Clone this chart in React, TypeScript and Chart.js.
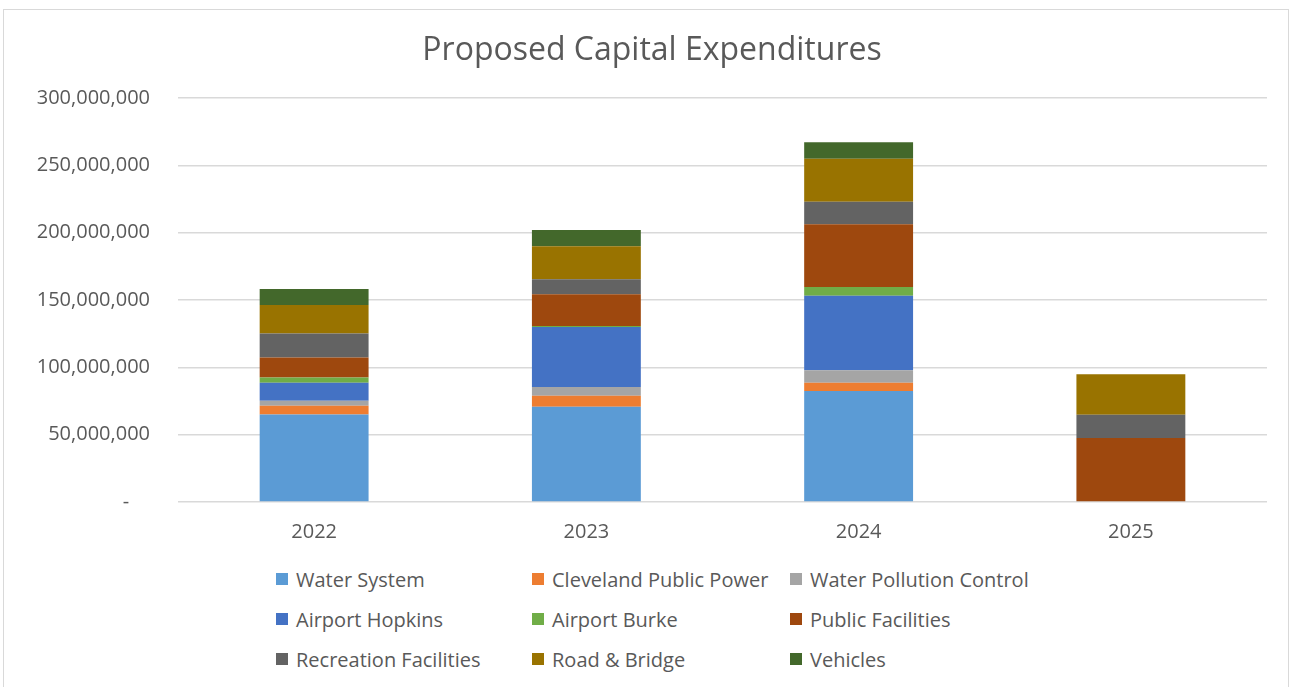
import React, { useEffect, useRef } from "react";
import { Chart, registerables } from "chart.js";

Chart.register(...registerables);

const years = ["2022", "2023", "2024", "2025"];
const waterSystem = [65000000, 70800000, 82400000, 0];
const clevelandPublicPower = [6400000, 8100000, 6200000, 0];
const waterPollutionControl = [3700000, 6500000, 9200000, 0];
const airportHopkins = [13400000, 44500000, 55400000, 0];
const airportBurke = [4000000, 800000, 6400000, 0];
const publicFacilities = [14800000, 23500000, 46600000, 47500000];
const recreationFacilities = [17900000, 11200000, 16800000, 17300000];
const roadBridge = [21000000, 24500000, 31900000, 30000000];
const vehicles = [11900000, 12100000, 12200000, 0];

const seriesNames = [
  "Water System",
  "Cleveland Public Power",
  "Water Pollution Control",
  "Airport Hopkins",
  "Airport Burke",
  "Public Facilities",
  "Recreation Facilities",
  "Road & Bridge",
  "Vehicles",
];
const seriesValues = [
  waterSystem,
  clevelandPublicPower,
  waterPollutionControl,
  airportHopkins,
  airportBurke,
  publicFacilities,
  recreationFacilities,
  roadBridge,
  vehicles,
];
const seriesColors = [
  "#5B9BD5",
  "#ED7D31",
  "#A5A5A5",
  "#4472C4",
  "#70AD47",
  "#9E480E",
  "#636363",
  "#997300",
  "#43682B",
];

const FONT = "'Open Sans', Lato, sans-serif";
const TEXT = "#595959";

export default function App() {
  const ref = useRef<HTMLCanvasElement | null>(null);

  useEffect(() => {
    if (!ref.current) return;
    const chart = new Chart(ref.current, {
      type: "bar",
      data: {
        labels: years,
        datasets: seriesNames.map((name, i) => ({
          label: name,
          data: seriesValues[i],
          backgroundColor: seriesColors[i],
          borderWidth: 0,
          barPercentage: 0.4,
          categoryPercentage: 1,
        })),
      },
      options: {
        responsive: false,
        animation: false,
        devicePixelRatio: 1,
        layout: { padding: { left: 37, right: 27, top: 0, bottom: 0 } },
        plugins: {
          legend: { display: false },
          tooltip: { enabled: false },
          title: {
            display: true,
            text: "Proposed Capital Expenditures",
            color: TEXT,
            font: { family: FONT, size: 32, weight: "normal" },
            padding: { top: 32, bottom: 27.6 },
          },
        },
        scales: {
          x: {
            stacked: true,
            grid: { display: false },
            border: { display: false },
            ticks: {
              color: TEXT,
              font: { family: FONT, size: 20 },
              padding: 10,
            },
            afterFit: (s: any) => {
              s.height = 60;
            },
          },
          y: {
            stacked: true,
            min: 0,
            max: 300000000,
            grid: { color: "#D9D9D9", lineWidth: 1.5, drawTicks: false },
            border: { display: false },
            ticks: {
              stepSize: 50000000,
              color: TEXT,
              font: { family: FONT, size: 20 },
              padding: 28,
              callback: (v: any) =>
                Number(v) === 0 ? "-    " : Number(v).toLocaleString("en-US"),
            },
            afterFit: (s: any) => {
              s.width = 141;
            },
          },
        },
      },
    });
    return () => chart.destroy();
  }, []);

  const legendCols = [276, 532, 790];
  const legendRows = [579, 619, 659];

  return (
    <div
      style={{
        position: "fixed",
        left: 0,
        top: 0,
        width: 1294,
        height: 687,
        background: "#fff",
        overflow: "hidden",
        fontFamily: FONT,
      }}
    >
      <div
        style={{
          position: "absolute",
          left: 3,
          top: 9,
          width: 1286,
          height: 700,
          border: "1px solid #D9D9D9",
          boxSizing: "border-box",
        }}
      />
      <canvas
        ref={ref}
        width={1294}
        height={562}
        style={{ position: "absolute", left: 0, top: 0, display: "block" }}
      />
      {seriesNames.map((name, i) => {
        const col = i % 3;
        const row = Math.floor(i / 3);
        return (
          <div
            key={name}
            style={{
              position: "absolute",
              left: legendCols[col],
              top: legendRows[row] - 14,
              height: 28,
              display: "flex",
              alignItems: "center",
              whiteSpace: "nowrap",
              color: TEXT,
              fontSize: 20,
            }}
          >
            <span
              style={{
                display: "inline-block",
                width: 12,
                height: 12,
                background: seriesColors[i],
                marginRight: 8,
              }}
            />
            <span>{name}</span>
          </div>
        );
      })}
    </div>
  );
}
